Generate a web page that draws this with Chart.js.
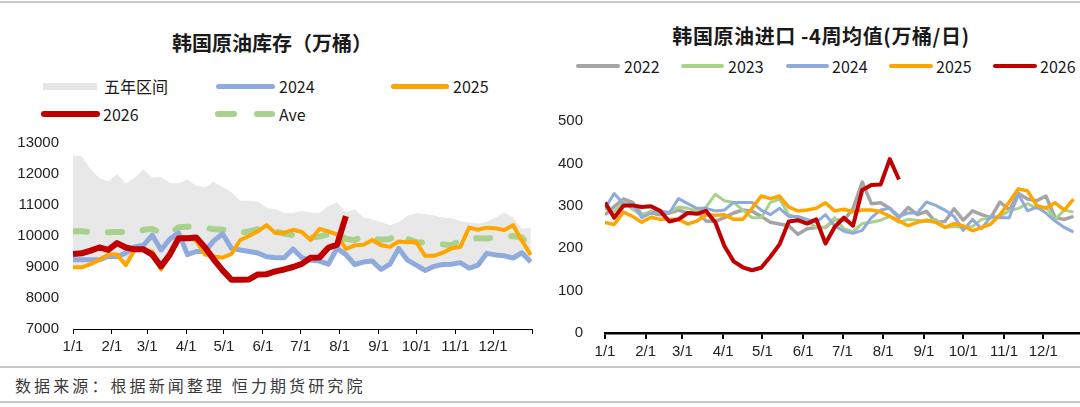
<!DOCTYPE html>
<html>
<head>
<meta charset="utf-8">
<script src="https://cdn.jsdelivr.net/npm/chart.js@4.4.1/dist/chart.umd.min.js"></script>
<style>
html, body { margin: 0; padding: 0; background: #fff; }
body { width: 1080px; height: 407px; position: relative; overflow: hidden; font-family: "Noto Sans CJK SC", sans-serif; }
.hr { position: absolute; left: 0; width: 1080px; height: 2px; background: #c8c8c8; }
.title { position: absolute; font-weight: bold; font-size: 20px; line-height: 24px; color: #1a1a1a; white-space: nowrap; transform: translateX(-50%); }
.lg { position: absolute; font-size: 16px; line-height: 20px; color: #1a1a1a; white-space: nowrap; }
.sw { position: absolute; border-radius: 3px; }
canvas { position: absolute; }
.foot { position: absolute; left: 15px; top: 374px; font-size: 16px; line-height: 22px; letter-spacing: 3.1px; color: #3a3a3a; white-space: nowrap; }
</style>
</head>
<body>
<div class="hr" style="top:1px"></div>
<div class="hr" style="top:366px"></div>
<div class="hr" style="top:401px"></div>

<div class="title" style="left:272px;top:31px">韩国原油库存（万桶）</div>
<div class="title" style="left:821px;top:24px;letter-spacing:0.6px">韩国原油进口 -4周均值(万桶/日)</div>

<div id="legendLeft"></div>
<div id="legendRight"></div>

<canvas id="stockChart" width="545" height="245" style="left:0;top:120px"></canvas>
<canvas id="importChart" width="549" height="275" style="left:540px;top:90px"></canvas>

<div class="foot">数据来源：根据新闻整理 恒力期货研究院</div>

<script>
// 周数据横坐标（年内天数）
const weekDays = Array.from({ length: 53 }, (_, i) => i * 7);
const monthDays = [0, 31, 59, 90, 120, 151, 181, 212, 243, 273, 304, 334, 365];
const monthLabels = ['1/1', '2/1', '3/1', '4/1', '5/1', '6/1', '7/1', '8/1', '9/1', '10/1', '11/1', '12/1', ''];

// 韩国原油库存（万桶）
const stockHigh = [12600, 12575, 12150, 11870, 11770, 11990, 11690, 11870, 12150, 11890,
    11900, 11720, 11690, 11820, 11620, 11570, 11750, 11570, 11410, 11140,
    11140, 11110, 10910, 10860, 10740, 10740, 10810, 10760, 10740, 10960,
    11080, 10760, 10860, 10600, 10535, 10450, 10350, 10450, 10650, 10730,
    10710, 10660, 10600, 10575, 10475, 10435, 10400, 10450, 10600, 10760,
    10600, 10230, 10270];
const stockLow = [8960, 8960, 9060, 9200, 9330, 9310, 9040, 9530, 9530, 9480,
    8900, 9430, 9930, 9380, 9480, 9380, 9320, 9280, 9400, 9530,
    9480, 9430, 9310, 9280, 9280, 9560, 9280, 9200, 9170, 9070,
    9580, 9380, 9060, 9140, 9170, 8900, 9070, 9580, 9200, 9040,
    8870, 9000, 9060, 9070, 9120, 8940, 9040, 9420, 9370, 9340,
    9270, 9440, 9140];
const stock2024 = [9230, 9230, 9230, 9230, 9350, 9330, 9450, 9650, 9700, 10030,
    9550, 9900, 10100, 9400, 9500, 9500, 9850, 10070, 9600, 9550,
    9500, 9450, 9330, 9300, 9300, 9580, 9300, 9220, 9190, 9090,
    9600, 9400, 9080, 9160, 9190, 8920, 9090, 9600, 9220, 9060,
    8890, 9020, 9080, 9090, 9140, 8960, 9060, 9440, 9390, 9360,
    9290, 9460, 9160];
const stock2025 = [8990, 8990, 9090, 9230, 9400, 9400, 9060, 9550, 9550, 9500,
    8920, 9450, 9950, 9970, 9850, 9400, 9340, 9300, 9420, 9870,
    10000, 10150, 10350, 10100, 10100, 10200, 10130, 9870, 10230, 10150,
    10050, 9580, 9700, 9720, 9870, 9700, 9650, 9820, 9800, 9800,
    9360, 9360, 9460, 9600, 9650, 10270, 10200, 10270, 10250, 10190,
    10350, 9850, 9390];
const stock2026 = [9420, 9440, 9530, 9630, 9550, 9770, 9630, 9570, 9570, 9400,
    9020, 9400, 9930, 9930, 9950, 9630, 9240, 8890, 8590, 8590,
    8600, 8760, 8770, 8860, 8920, 9000, 9100, 9300, 9310, 9620,
    9720, 10640];
const stockAve = [10150, 10150, 10130, 10120, 10120, 10130, 10130, 10110, 10200, 10230,
    10100, 10080, 10280, 10300, 10300, 10270, 10220, 10200, 10180, 10100,
    10150, 10220, 10230, 10150, 10080, 10030, 10030, 9950, 9980, 10050,
    10150, 9900, 9870, 10000, 9920, 9880, 9900, 10100, 9900, 9800,
    9780, 9750, 9730, 9700, 9870, 9900, 9930, 9920, 9950, 9980,
    10000, 9950, 9580];

// 韩国原油进口 4周均值（万桶/日）
const imp2022 = [279, 298, 316, 308, 279, 283, 279, 283, 290, 283, 288, 264, 263, 272, 283, 290, 287, 275, 261, 257,
    253, 233, 246, 249, 249, 268, 265, 294, 356, 305, 307, 294, 272, 296, 279, 287, 261, 263, 293, 266,
    288, 279, 272, 309, 290, 329, 316, 312, 323, 272, 268, 275];
const imp2023 = [294, 286, 310, 292, 277, 288, 288, 285, 297, 294, 288, 297, 327, 312, 308, 290, 272, 272, 308, 316,
    279, 272, 264, 249, 249, 272, 246, 239, 258, 261, 266, 275, 261, 268, 266, 263, 268, 249, 251, 249,
    251, 268, 272, 275, 288, 294, 305, 294, 297, 268, 290, 285];
const imp2024 = [294, 329, 305, 305, 272, 283, 288, 283, 317, 305, 294, 294, 288, 290, 308, 308, 308, 290, 279, 294,
    275, 275, 268, 261, 279, 253, 240, 235, 242, 272, 290, 294, 275, 283, 283, 309, 301, 290, 275, 242,
    268, 246, 275, 272, 272, 327, 288, 297, 283, 264, 249, 238];
const imp2025 = [261, 256, 285, 275, 261, 273, 268, 268, 268, 257, 264, 279, 278, 279, 268, 268, 294, 323, 317, 323,
    297, 288, 290, 294, 307, 288, 292, 286, 290, 290, 286, 275, 264, 253, 261, 266, 261, 249, 258, 253,
    241, 249, 257, 279, 309, 340, 335, 301, 294, 307, 290, 316];
const imp2026 = [308, 272, 300, 301, 297, 299, 288, 263, 268, 283, 281, 288, 261, 205, 169, 155, 148, 154, 180, 209,
    263, 266, 258, 268, 211, 250, 272, 253, 337, 349, 350, 410, 362];

const tickFont = { family: 'Liberation Sans', size: 15 };
const dateFont = { family: 'Liberation Sans Narrow, Liberation Sans', size: 15 };

// 图例（HTML）
function addLegend(boxId, items) {
    const box = document.getElementById(boxId);
    items.forEach(it => {
        if (it.dash) {
            it.dash.forEach(seg => {
                const s = document.createElement('div');
                s.className = 'sw';
                s.style.cssText = `left:${seg[0]}px;top:${it.y - it.h / 2}px;width:${seg[1] - seg[0]}px;height:${it.h}px;background:${it.color}`;
                box.appendChild(s);
            });
        } else {
            const s = document.createElement('div');
            s.className = 'sw';
            s.style.cssText = `left:${it.x0}px;top:${it.y - it.h / 2}px;width:${it.x1 - it.x0}px;height:${it.h}px;background:${it.color};border-radius:${it.r}px`;
            box.appendChild(s);
        }
        const t = document.createElement('div');
        t.className = 'lg';
        t.style.left = it.tx + 'px';
        t.style.top = (it.y - 10) + 'px';
        t.textContent = it.label;
        box.appendChild(t);
    });
}

addLegend('legendLeft', [
    { label: '五年区间', x0: 43, x1: 97, y: 86, h: 7, r: 0, color: '#e6e6e6', tx: 104 },
    { label: '2024', x0: 216, x1: 275, y: 86, h: 5, r: 3, color: '#8faadc', tx: 279 },
    { label: '2025', x0: 391, x1: 449, y: 86, h: 5, r: 3, color: '#ffa500', tx: 453 },
    { label: '2026', x0: 41, x1: 100, y: 114, h: 6, r: 3, color: '#c00000', tx: 103 },
    { label: 'Ave', dash: [[215, 237], [254, 275]], y: 114, h: 6, color: '#a9d18e', tx: 279 }
]);

addLegend('legendRight', [
    { label: '2022', x0: 576, x1: 620, y: 66, h: 4, r: 2, color: '#a5a5a5', tx: 624 },
    { label: '2023', x0: 681, x1: 724, y: 66, h: 4, r: 2, color: '#a9d18e', tx: 728 },
    { label: '2024', x0: 786, x1: 829, y: 66, h: 4, r: 2, color: '#8faadc', tx: 832 },
    { label: '2025', x0: 889, x1: 933, y: 66, h: 4, r: 2, color: '#ffa500', tx: 936 },
    { label: '2026', x0: 993, x1: 1037, y: 66, h: 4, r: 2, color: '#c00000', tx: 1040 }
]);

function dateAxis(height, borderWidth, tickWidth, tickLen) {
    return {
        type: 'linear',
        min: 0,
        max: 365,
        afterBuildTicks: s => { s.ticks = monthDays.map(v => ({ value: v })); },
        afterFit: s => { s.height = height; },
        grid: { display: true, drawOnChartArea: false, drawTicks: true, tickLength: tickLen, color: '#000', lineWidth: tickWidth },
        border: { display: true, color: '#000', width: borderWidth },
        ticks: {
            autoSkip: false,
            maxRotation: 0,
            padding: 4,
            color: '#222',
            font: dateFont,
            callback: (v, i) => monthLabels[i]
        }
    };
}

function line(label, data, color, width, order) {
    return {
        label: label,
        data: data,
        borderColor: color,
        backgroundColor: color,
        borderWidth: width,
        pointRadius: 0,
        tension: 0,
        fill: false,
        borderJoinStyle: 'round',
        order: order
    };
}

// 库存图
const stockAveSet = line('Ave', stockAve, '#a9d18e', 6, 4);
stockAveSet.borderDash = [14, 21];
stockAveSet.borderCapStyle = 'round';

new Chart(document.getElementById('stockChart'), {
    type: 'line',
    data: {
        labels: weekDays,
        datasets: [
            { label: '五年区间', data: stockHigh, borderWidth: 0, pointRadius: 0, backgroundColor: '#e8e8e8', fill: '+1', order: 10 },
            { label: 'low', data: stockLow, borderWidth: 0, pointRadius: 0, backgroundColor: '#e8e8e8', fill: false, order: 11 },
            line('2024', stock2024, '#8faadc', 5, 3),
            line('2025', stock2025, '#ffa500', 4, 2),
            stockAveSet,
            line('2026', stock2026, '#c00000', 6, 1)
        ]
    },
    options: {
        responsive: false,
        animation: false,
        layout: { padding: { top: 11, right: 13, left: 0, bottom: 0 } },
        plugins: {
            legend: { display: false },
            tooltip: { enabled: false },
            filler: { drawTime: 'beforeDatasetsDraw' }
        },
        scales: {
            x: dateAxis(36, 1, 1, 5),
            y: {
                min: 7000,
                max: 13000,
                afterFit: s => { s.width = 73; },
                grid: { display: false, drawTicks: false },
                border: { display: false },
                ticks: { stepSize: 1000, padding: 14, color: '#222', font: tickFont, callback: v => String(v) }
            }
        }
    }
});

// 进口图
new Chart(document.getElementById('importChart'), {
    type: 'line',
    data: {
        labels: weekDays,
        datasets: [
            line('2022', imp2022, '#a5a5a5', 3.5, 5),
            line('2023', imp2023, '#a9d18e', 3, 4),
            line('2024', imp2024, '#8faadc', 3, 3),
            line('2025', imp2025, '#ffa500', 3.5, 2),
            line('2026', imp2026, '#c00000', 4, 1)
        ]
    },
    options: {
        responsive: false,
        animation: false,
        layout: { padding: { top: 17, right: 5, left: 0, bottom: 0 } },
        plugins: {
            legend: { display: false },
            tooltip: { enabled: false }
        },
        scales: {
            x: dateAxis(32, 2.5, 2, 6),
            y: {
                min: 0,
                max: 500,
                afterFit: s => { s.width = 65; },
                grid: { display: false, drawTicks: false },
                border: { display: false },
                ticks: { stepSize: 100, padding: 22, color: '#222', font: tickFont, callback: v => String(v) }
            }
        }
    }
});
</script>
</body>
</html>
